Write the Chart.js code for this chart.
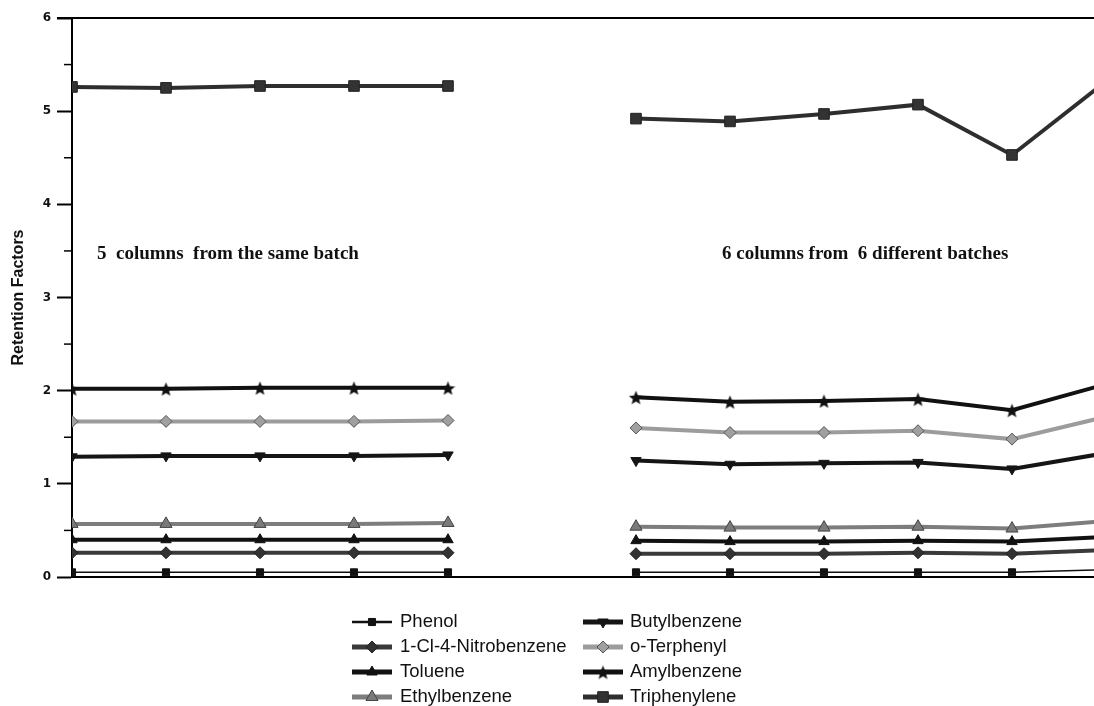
<!DOCTYPE html>
<html>
<head>
<meta charset="utf-8">
<title>Retention Factors</title>
<script src="https://cdn.jsdelivr.net/npm/chart.js@4.4.0/dist/chart.umd.min.js"></script>
<style>
  html, body { margin: 0; padding: 0; background: #fff; }
  #wrap { width: 1094px; height: 706px; }
</style>
</head>
<body>
<div id="wrap"><canvas id="chart" width="1094" height="706"></canvas></div>
<script>
// column number (6 is the empty gap between the two groups)
const columns = [1, 2, 3, 4, 5, 6, 7, 8, 9, 10, 11, 12];

const phenol      = [0.05, 0.05, 0.05, 0.05, 0.05, null, 0.05, 0.05, 0.05, 0.05, 0.05, 0.08];
const nitrobenz   = [0.26, 0.26, 0.26, 0.26, 0.26, null, 0.25, 0.25, 0.25, 0.26, 0.25, 0.29];
const toluene     = [0.40, 0.40, 0.40, 0.40, 0.40, null, 0.39, 0.38, 0.38, 0.39, 0.38, 0.43];
const ethylbenz   = [0.57, 0.57, 0.57, 0.57, 0.58, null, 0.54, 0.53, 0.53, 0.54, 0.52, 0.60];
const butylbenz   = [1.29, 1.30, 1.30, 1.30, 1.31, null, 1.25, 1.21, 1.22, 1.23, 1.16, 1.33];
const terphenyl   = [1.67, 1.67, 1.67, 1.67, 1.68, null, 1.60, 1.55, 1.55, 1.57, 1.48, 1.72];
const amylbenz    = [2.02, 2.02, 2.03, 2.03, 2.03, null, 1.93, 1.88, 1.89, 1.91, 1.79, 2.07];
const triphenyl   = [5.26, 5.25, 5.27, 5.27, 5.27, null, 4.92, 4.89, 4.97, 5.07, 4.53, 5.32];

const yTicks = [0, 1, 2, 3, 4, 5, 6];
const notes = ["5  columns  from the same batch", "6 columns from  6 different batches"];

// filled five point star for Amylbenzene
function makeStar(size, color) {
    const c = document.createElement("canvas");
    c.width = size; c.height = size;
    const g = c.getContext("2d");
    const cx = size / 2, cy = size / 2, ro = size / 2, ri = size / 4.6;
    g.beginPath();
    for (let i = 0; i < 10; i++) {
        const r = i % 2 ? ri : ro;
        const a = -Math.PI / 2 + i * Math.PI / 5;
        g.lineTo(cx + r * Math.cos(a), cy + r * Math.sin(a) + 1);
    }
    g.closePath();
    g.fillStyle = color;
    g.fill();
    return c;
}
const star = makeStar(15, "#111");

function pts(arr) {
    return arr.map((v, i) => ({ x: columns[i], y: v }));
}

function series(label, arr, line, width, style, fill, edge, radius, rot) {
    return {
        label: label,
        data: pts(arr),
        borderColor: line,
        borderWidth: width,
        pointStyle: style,
        pointBackgroundColor: fill,
        pointBorderColor: edge,
        pointBorderWidth: 1,
        pointRadius: radius,
        pointHoverRadius: radius,
        pointRotation: rot || 0,
        tension: 0,
        spanGaps: false
    };
}

const datasets = [
    series("Phenol", phenol, "#111", 1.5, "rect", "#111", "#111", 5),
    series("1-Cl-4-Nitrobenzene", nitrobenz, "#3a3a3a", 4, "rectRot", "#333", "#222", 6),
    series("Toluene", toluene, "#111", 4, "triangle", "#111", "#111", 6),
    series("Ethylbenzene", ethylbenz, "#7d7d7d", 4, "triangle", "#7a7a7a", "#444", 7),
    series("Butylbenzene", butylbenz, "#151515", 4, "triangle", "#151515", "#151515", 6, 180),
    series("o-Terphenyl", terphenyl, "#9c9c9c", 4, "rectRot", "#a0a0a0", "#555", 6),
    series("Amylbenzene", amylbenz, "#111", 4, star, "#111", "#111", 8),
    series("Triphenylene", triphenyl, "#2e2e2e", 4, "rect", "#333", "#222", 7.5)
];

// top frame line, minor ticks, notes and the two-column legend
const extras = {
    id: "extras",
    afterDraw(chart) {
        const ctx = chart.ctx;
        const a = chart.chartArea;
        const y = chart.scales.y;
        ctx.save();
        ctx.strokeStyle = "#000";
        ctx.lineWidth = 2;
        ctx.beginPath();
        ctx.moveTo(a.left - 15, a.top);
        ctx.lineTo(chart.width, a.top);
        ctx.stroke();

        ctx.lineWidth = 1.5;
        for (let v = 0.5; v < 6; v += 1) {
            const py = y.getPixelForValue(v);
            ctx.beginPath();
            ctx.moveTo(a.left - 8, py);
            ctx.lineTo(a.left, py);
            ctx.stroke();
        }

        ctx.fillStyle = "#111";
        ctx.font = "bold 19px 'Liberation Serif', serif";
        ctx.textBaseline = "middle";
        ctx.textAlign = "left";
        ctx.fillText(notes[0], 97, 254);
        ctx.fillText(notes[1], 722, 254);

        // legend
        ctx.font = "18.5px 'Liberation Sans', Arial, sans-serif";
        const cols = [{ lx: 352, tx: 400 }, { lx: 583, tx: 630 }];
        const rows = [622, 647, 672, 697];
        chart.data.datasets.forEach((ds, i) => {
            const c = cols[Math.floor(i / 4)];
            const ry = rows[i % 4];
            const len = 40;
            ctx.strokeStyle = ds.borderColor;
            ctx.lineWidth = ds.borderWidth + 1;
            ctx.beginPath();
            ctx.moveTo(c.lx, ry);
            ctx.lineTo(c.lx + len, ry);
            ctx.stroke();
            ctx.fillStyle = ds.pointBackgroundColor;
            ctx.strokeStyle = ds.pointBorderColor;
            ctx.lineWidth = 1;
            Chart.helpers.drawPoint(ctx, {
                pointStyle: ds.pointStyle,
                rotation: ds.pointRotation,
                radius: ds.pointRadius,
                borderWidth: 1
            }, c.lx + len / 2, ry);
            ctx.fillStyle = "#111";
            ctx.fillText(ds.label, c.tx, ry);
        });
        ctx.restore();
    }
};

new Chart(document.getElementById("chart"), {
    type: "line",
    data: { datasets: datasets },
    options: {
        responsive: false,
        animation: false,
        events: [],
        layout: { autoPadding: false, padding: { top: 18, right: 0, bottom: 129, left: 0 } },
        plugins: {
            legend: { display: false },
            tooltip: { enabled: false }
        },
        scales: {
            x: {
                type: "linear",
                min: 1,
                max: 1 + (1094 - 72) / 94,
                grid: { display: false, drawTicks: false },
                border: { display: true, color: "#000", width: 2 },
                ticks: { display: false },
                afterFit(scale) { scale.height = 0; }
            },
            y: {
                min: 0,
                max: 6,
                afterBuildTicks(scale) {
                    scale.ticks = yTicks.map(v => ({ value: v }));
                },
                grid: {
                    drawOnChartArea: false,
                    drawTicks: true,
                    tickLength: 15,
                    tickWidth: 2,
                    tickColor: "#000"
                },
                border: { display: true, color: "#000", width: 2 },
                ticks: {
                    color: "#111",
                    padding: 6,
                    font: { family: "'DejaVu Sans', sans-serif", size: 12, weight: "bold" }
                },
                title: {
                    display: true,
                    text: "Retention Factors",
                    color: "#111",
                    padding: { top: 9, bottom: 4 },
                    font: { family: "'Liberation Sans', Arial, sans-serif", size: 16, weight: "bold" }
                },
                afterFit(scale) { scale.width = 72; }
            }
        }
    },
    plugins: [extras]
});
</script>
</body>
</html>
